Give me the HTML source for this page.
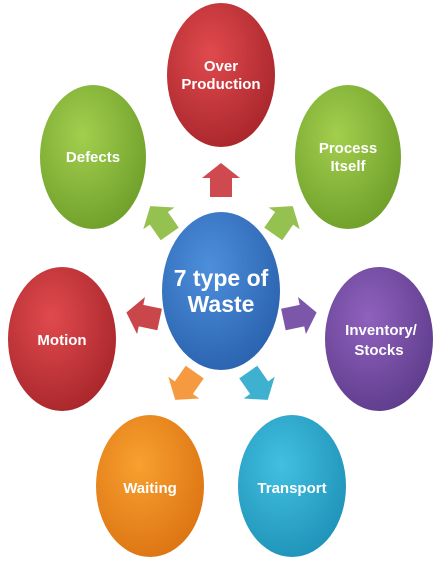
<!DOCTYPE html>
<html><head><style>
html,body{margin:0;padding:0;background:#fff;}
svg{display:block}
text{font-family:"Liberation Sans",sans-serif;font-weight:bold;fill:#fff;text-anchor:middle}
</style></head><body>
<svg width="442" height="565" viewBox="0 0 442 565">
<defs>
<radialGradient id="r" cx="40%" cy="35%" r="70%"><stop offset="0" stop-color="#e04a4e"/><stop offset="1" stop-color="#a8262b"/></radialGradient>
<radialGradient id="g" cx="40%" cy="35%" r="70%"><stop offset="0" stop-color="#a3cf4e"/><stop offset="1" stop-color="#6f9f2a"/></radialGradient>
<radialGradient id="b" cx="40%" cy="35%" r="70%"><stop offset="0" stop-color="#4d8fdc"/><stop offset="1" stop-color="#2a62ae"/></radialGradient>
<radialGradient id="p" cx="40%" cy="35%" r="70%"><stop offset="0" stop-color="#8f62bd"/><stop offset="1" stop-color="#5f3c8c"/></radialGradient>
<radialGradient id="o" cx="40%" cy="35%" r="70%"><stop offset="0" stop-color="#f8a030"/><stop offset="1" stop-color="#dc7412"/></radialGradient>
<radialGradient id="c" cx="40%" cy="35%" r="70%"><stop offset="0" stop-color="#42c0e0"/><stop offset="1" stop-color="#1f92b8"/></radialGradient>
<polygon id="ar" points="0,-17 -19,-2 -11,-2 -11,17 11,17 11,-2 19,-2"/>
</defs>
<use href="#ar" transform="translate(221,180)" fill="#cf4a4e"/>
<use href="#ar" transform="translate(160,220) rotate(-35)" fill="#95c150"/>
<use href="#ar" transform="translate(283,220) rotate(35)" fill="#95c150"/>
<use href="#ar" transform="translate(143,316) rotate(-78)" fill="#c9464a"/>
<use href="#ar" transform="translate(300,316) rotate(78)" fill="#7c56a8"/>
<use href="#ar" transform="translate(185,386) rotate(-145)" fill="#f59a40"/>
<use href="#ar" transform="translate(258,386) rotate(145)" fill="#3eb0d0"/>

<ellipse cx="221" cy="75" rx="54" ry="72" fill="url(#r)"/>
<ellipse cx="93" cy="157" rx="53" ry="72" fill="url(#g)"/>
<ellipse cx="348" cy="157" rx="53" ry="72" fill="url(#g)"/>
<ellipse cx="221" cy="291" rx="59" ry="79" fill="url(#b)"/>
<ellipse cx="62" cy="339" rx="54" ry="72" fill="url(#r)"/>
<ellipse cx="379" cy="339" rx="54" ry="72" fill="url(#p)"/>
<ellipse cx="150" cy="486" rx="54" ry="71" fill="url(#o)"/>
<ellipse cx="292" cy="486" rx="54" ry="71" fill="url(#c)"/>

<text x="221" y="71" font-size="15">Over</text>
<text x="221" y="89" font-size="15">Production</text>
<text x="93" y="162" font-size="15">Defects</text>
<text x="348" y="153" font-size="15">Process</text>
<text x="348" y="171" font-size="15">Itself</text>
<text x="221" y="286" font-size="23">7 type of</text>
<text x="221" y="312" font-size="23">Waste</text>
<text x="62" y="345" font-size="15">Motion</text>
<text x="381" y="335" font-size="15">Inventory/</text>
<text x="379" y="355" font-size="15">Stocks</text>
<text x="150" y="493" font-size="15">Waiting</text>
<text x="292" y="493" font-size="15">Transport</text>
</svg>
</body></html>
